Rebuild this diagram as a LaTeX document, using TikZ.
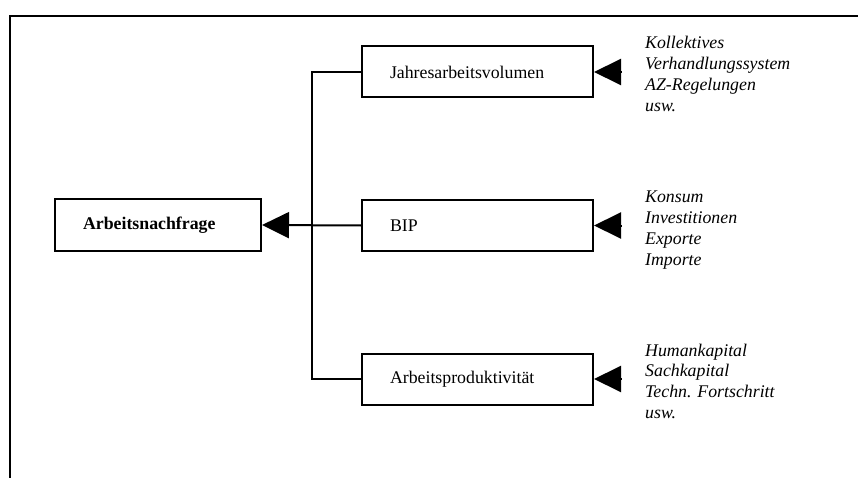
\documentclass[tikz,border=0pt]{standalone}
\usepackage{fontspec}
\setmainfont{Liberation Serif}
\usetikzlibrary{arrows.meta}
\begin{document}
\begin{tikzpicture}[x=1pt,y=-1pt,
  lw/.style={line width=2pt},
  box/.style={draw,lw,minimum height=51pt,inner xsep=28pt,inner ysep=0pt,align=left,
    font=\fontsize{17.8}{20.8}\selectfont},
  sidebox/.style={box,text width=175pt},
  mainbox/.style={box,text width=150pt,font=\fontsize{17.8}{20.8}\selectfont\bfseries},
  factors/.style={anchor=base west,inner sep=0pt,font=\fontsize{17.8}{20.8}\selectfont\itshape},
  tri/.style={-{Triangle[length=27pt,width=26pt]},lw},
  conn/.style={lw}]
\useasboundingbox (0,0) rectangle (858,478);
% frame
\draw[lw] (10,478) -- (10,16) -- (858,16);
% nodes
\node[mainbox] (an) at (158,225) {Arbeitsnachfrage};
\node[sidebox] (jv) at (477.5,72) {Jahresarbeitsvolumen};
\node[sidebox] (bip) at (477.5,225.5) {BIP};
\node[sidebox] (ap) at (477.5,379) {Arbeitsproduktivität};
% factor texts
\node[factors] (f1) at (645,49) {\begin{tabular}[t]{@{}l@{}}Kollektives\\Verhandlungssystem\\AZ-Regelungen\\usw.\end{tabular}};
\node[factors] (f2) at (645,203) {\begin{tabular}[t]{@{}l@{}}Konsum\\Investitionen\\Exporte\\Importe\end{tabular}};
\node[factors] (f3) at (645,356) {\begin{tabular}[t]{@{}l@{}}Humankapital\\Sachkapital\\Techn. Fortschritt\\usw.\end{tabular}};
% tree connectors
\coordinate (top) at (312,72);
\coordinate (bot) at (312,379);
\draw[conn] (jv.west) -- (top) -- (bot) -- (ap.west);
\draw[tri] (bip.west) -- (an.east);
% input arrowheads
\coordinate (s1) at (621,72);
\coordinate (s2) at (621,225.5);
\coordinate (s3) at (621,379);
\draw[tri] (s1) -- (jv.east);
\draw[tri] (s2) -- (bip.east);
\draw[tri] (s3) -- (ap.east);
\end{tikzpicture}
\end{document}
